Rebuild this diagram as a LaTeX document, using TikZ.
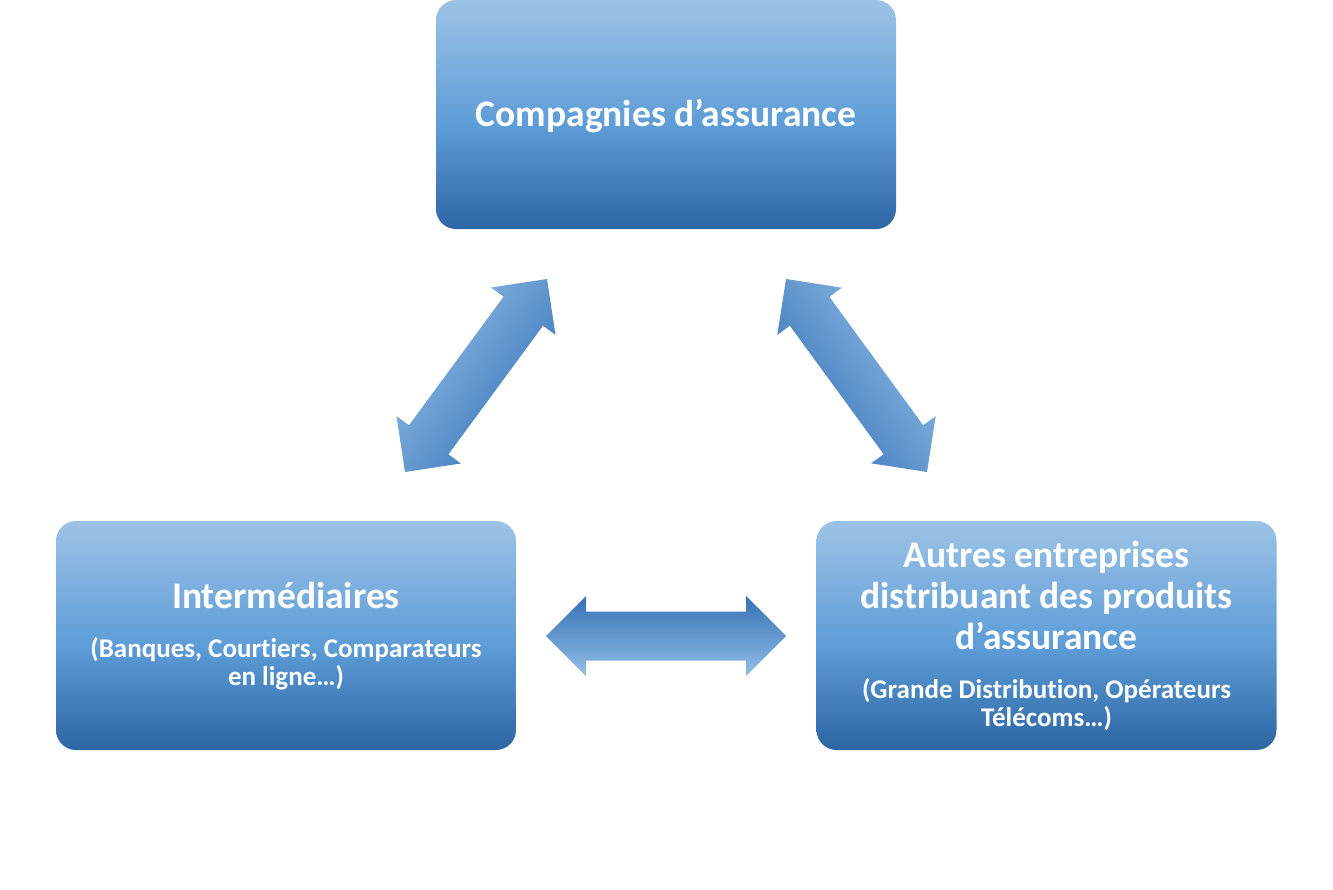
\documentclass[tikz,border=0pt]{standalone}
\usepackage{fontspec}
\setmainfont{Carlito}[Ligatures={NoCommon}]
\usetikzlibrary{calc}
\definecolor{blight}{HTML}{9DC3E6}
\definecolor{bmid}{HTML}{5E9DD7}
\definecolor{bdark}{HTML}{2C66A4}
\definecolor{alight}{HTML}{93BEE7}
\definecolor{adark}{HTML}{3572B5}
\pgfdeclareverticalshading{boxshade}{100bp}{color(0bp)=(bdark); color(25bp)=(bdark); color(48bp)=(bmid); color(75bp)=(blight); color(100bp)=(blight)}
\newcommand\subfnt{\fontsize{27}{28}\selectfont}
\newcommand\tstrut{\rule{0pt}{36pt}}
\newcommand\bstrut[1]{\rule[-#1pt]{0pt}{#1pt}}
\newcommand\dblblockarrow[3]{%
  \path ($(#1)!40pt!(#2)$) coordinate (#1h) ($(#2)!40pt!(#1)$) coordinate (#2h);
  \shade[#3] (#1) -- ($(#1h)!40pt!90:(#2)$) -- ($(#1h)!24.5pt!90:(#2)$)
    -- ($(#2h)!24.5pt!-90:(#1)$) -- ($(#2h)!40pt!-90:(#1)$) -- (#2)
    -- ($(#2h)!40pt!90:(#1)$) -- ($(#2h)!24.5pt!90:(#1)$)
    -- ($(#1h)!24.5pt!-90:(#2)$) -- ($(#1h)!40pt!-90:(#2)$) -- cycle;}
\lineskiplimit=-100pt
\begin{document}
\begin{tikzpicture}[x=1pt,y=-1pt,
  box/.style={shade, shading=boxshade, rounded corners=20pt,
    minimum width=460pt, minimum height=229pt, inner sep=0pt,
    text=white, align=center,
    font=\bfseries\fontsize{37.5}{41}\selectfont},
  arrowfill/.style={top color=alight, bottom color=adark, shading angle=#1}]
\useasboundingbox (0,0) rectangle (1333,889);
\node[box] (comp) at (666,114.5) {\tstrut Compagnies d’assurance\bstrut{13}};
\node[box] (inter) at (286,635.5) {\tstrut Intermédiaires\\[8pt]{\subfnt (Banques, Courtiers, Comparateurs}\\[-13pt]{\subfnt en ligne…)\bstrut{14}}};
\node[box] (autres) at (1046.5,635.5) {\tstrut Autres entreprises\\distribuant des produits\\d’assurance\\[8pt]{\subfnt (Grande Distribution, Opérateurs}\\[-13pt]{\subfnt Télécoms…)\bstrut{12.6}}};
\coordinate (lA) at (405,472);
\coordinate (lB) at (547,279);
\coordinate (rA) at (786,279);
\coordinate (rB) at (927,472);
\coordinate (hA) at (546,636);
\coordinate (hB) at (786,636);
\dblblockarrow{lA}{lB}{arrowfill=54}
\dblblockarrow{rA}{rB}{arrowfill=-54}
\dblblockarrow{hA}{hB}{top color=adark, bottom color=alight}
\end{tikzpicture}
\end{document}
